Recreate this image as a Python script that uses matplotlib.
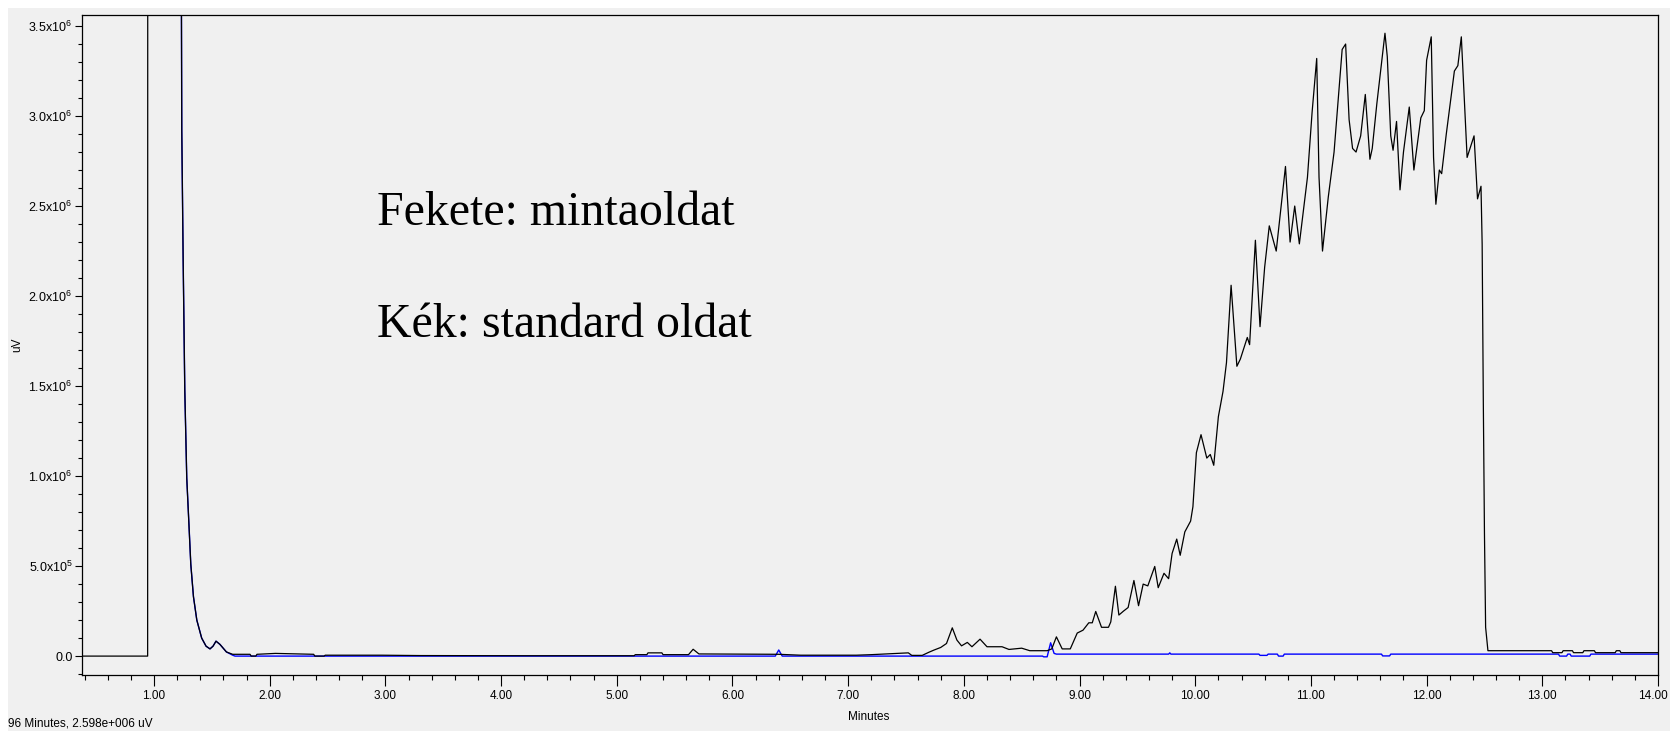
import matplotlib
matplotlib.use("Agg")
import matplotlib.pyplot as plt
from matplotlib import font_manager
from matplotlib.patches import Rectangle
from matplotlib.transforms import ScaledTranslation
from matplotlib.ticker import MultipleLocator, FixedLocator

# sample trace (black), minutes / uV
t_sample = [0.375, 0.945, 0.946, 1.231, 1.240, 1.252, 1.266, 1.283, 1.300, 1.318,
            1.341, 1.370, 1.412, 1.45, 1.484, 1.51, 1.536, 1.57, 1.626, 1.68,
            1.83, 1.84, 1.88, 1.89, 2.05, 2.38, 2.39, 2.47, 2.48, 2.90,
            2.97, 3.30, 4.23, 5.15, 5.16, 5.26, 5.27, 5.39, 5.40, 5.62,
            5.66, 5.71, 6.40, 6.59, 7.07, 7.20, 7.52, 7.55, 7.64, 7.70,
            7.74, 7.80, 7.85, 7.90, 7.94, 7.98, 8.03, 8.07, 8.14, 8.20,
            8.33, 8.39, 8.50, 8.57, 8.72, 8.76, 8.80, 8.85, 8.92, 8.98,
            9.03, 9.08, 9.11, 9.14, 9.19, 9.25, 9.27, 9.31, 9.34, 9.38,
            9.42, 9.47, 9.51, 9.55, 9.59, 9.65, 9.68, 9.73, 9.77, 9.80,
            9.84, 9.87, 9.91, 9.96, 9.98, 10.01, 10.05, 10.10, 10.13, 10.16,
            10.20, 10.24, 10.27, 10.31, 10.36, 10.39, 10.45, 10.47, 10.49, 10.52,
            10.56, 10.60, 10.64, 10.70, 10.78, 10.82, 10.86, 10.90, 10.97, 11.01,
            11.05, 11.07, 11.10, 11.15, 11.20, 11.27, 11.30, 11.33, 11.36, 11.39,
            11.43, 11.47, 11.51, 11.53, 11.57, 11.64, 11.66, 11.69, 11.71, 11.74,
            11.77, 11.80, 11.85, 11.89, 11.95, 11.98, 12.00, 12.04, 12.06, 12.08,
            12.11, 12.13, 12.17, 12.24, 12.27, 12.30, 12.35, 12.41, 12.44, 12.47,
            12.48, 12.49, 12.50, 12.51, 12.53, 13.08, 13.09, 13.17, 13.18, 13.26,
            13.27, 13.35, 13.36, 13.45, 13.46, 13.63, 13.64, 13.67, 13.68, 14.0]
uv_sample = [0, 0, 5.0e6, 5.0e6, 2.92e6, 2.20e6, 1.48e6, 0.99e6, 7.6e5, 5.1e5,
             3.3e5, 2.0e5, 1.0e5, 5.5e4, 4.0e4, 5.5e4, 8.3e4, 6.5e4, 2.3e4, 1.0e4,
             1.0e4, 0, 0, 1.0e4, 1.5e4, 1.0e4, 0, 0, 5e3, 5e3,
             5e3, 3e3, 2e3, 2e3, 8e3, 8e3, 1.8e4, 1.8e4, 8e3, 8e3,
             3.8e4, 1.2e4, 1.0e4, 5e3, 5e3, 8e3, 1.8e4, 4e3, 4e3, 2.2e4,
             3.3e4, 4.8e4, 7.0e4, 1.57e5, 8.9e4, 5.7e4, 7.6e4, 5.2e4, 9.4e4, 5.2e4,
             5.2e4, 3.7e4, 4.4e4, 3.0e4, 3.0e4, 4.0e4, 1.07e5, 4.0e4, 4.0e4, 1.28e5,
             1.44e5, 1.85e5, 1.85e5, 2.48e5, 1.6e5, 1.6e5, 1.9e5, 3.88e5, 2.28e5, 2.5e5,
             2.7e5, 4.2e5, 2.8e5, 4.0e5, 3.9e5, 4.98e5, 3.8e5, 4.6e5, 4.3e5, 5.7e5,
             6.5e5, 5.6e5, 6.9e5, 7.5e5, 8.3e5, 1.13e6, 1.23e6, 1.10e6, 1.12e6, 1.06e6,
             1.33e6, 1.47e6, 1.63e6, 2.06e6, 1.61e6, 1.65e6, 1.77e6, 1.73e6, 1.96e6, 2.31e6,
             1.83e6, 2.16e6, 2.39e6, 2.25e6, 2.72e6, 2.30e6, 2.50e6, 2.29e6, 2.66e6, 3.02e6,
             3.32e6, 2.66e6, 2.25e6, 2.55e6, 2.80e6, 3.37e6, 3.40e6, 2.98e6, 2.82e6, 2.80e6,
             2.89e6, 3.12e6, 2.76e6, 2.82e6, 3.07e6, 3.46e6, 3.33e6, 2.89e6, 2.81e6, 2.97e6,
             2.59e6, 2.80e6, 3.05e6, 2.70e6, 2.99e6, 3.03e6, 3.31e6, 3.44e6, 2.77e6, 2.51e6,
             2.70e6, 2.68e6, 2.90e6, 3.25e6, 3.28e6, 3.44e6, 2.77e6, 2.89e6, 2.54e6, 2.61e6,
             2.29e6, 1.42e6, 6.8e5, 1.6e5, 3.0e4, 3.0e4, 1.9e4, 1.9e4, 3.0e4, 3.0e4,
             1.9e4, 1.9e4, 3.0e4, 3.0e4, 1.9e4, 1.9e4, 3.0e4, 3.0e4, 1.9e4, 1.9e4]

# standard trace (blue)
t_standard = [1.231, 1.240, 1.252, 1.266, 1.283, 1.300, 1.318, 1.341, 1.370, 1.412,
              1.45, 1.484, 1.51, 1.536, 1.57, 1.626, 1.68, 1.70, 6.37, 6.40,
              6.43, 8.68, 8.69, 8.72, 8.75, 8.78, 8.80, 9.77, 9.78, 9.79,
              10.55, 10.56, 10.62, 10.63, 10.71, 10.72, 10.76, 10.77, 11.61, 11.62,
              11.68, 11.69, 13.14, 13.15, 13.21, 13.22, 13.24, 13.25, 13.41, 13.42,
              14.0]
uv_standard = [5.0e6, 2.92e6, 2.20e6, 1.48e6, 0.99e6, 7.6e5, 5.1e5, 3.3e5, 2.0e5, 1.0e5,
               5.5e4, 4.0e4, 5.5e4, 8.3e4, 6.5e4, 2.3e4, 5e3, 0, 0, 3.4e4,
               0, 0, -4e3, -4e3, 7.4e4, 1.5e4, 1.1e4, 1.1e4, 1.8e4, 1.1e4,
               1.1e4, 4e3, 4e3, 1.1e4, 1.1e4, 0, 0, 1.1e4, 1.1e4, 1e3,
               1e3, 1.1e4, 1.1e4, 0, 0, 1.1e4, 1.1e4, 0, 0, 1.1e4,
               1.1e4]

x_major = [1, 2, 3, 4, 5, 6, 7, 8, 9, 10, 11, 12, 13, 14]
x_labels = ["1.00", "2.00", "3.00", "4.00", "5.00", "6.00", "7.00",
            "8.00", "9.00", "10.00", "11.00", "12.00", "13.00", "14.00"]
y_major = [0, 5e5, 1e6, 1.5e6, 2e6, 2.5e6, 3e6, 3.5e6]
y_labels = ["0.0", r"5.0x10$^{5}$", r"1.0x10$^{6}$", r"1.5x10$^{6}$",
            r"2.0x10$^{6}$", r"2.5x10$^{6}$", r"3.0x10$^{6}$", r"3.5x10$^{6}$"]

names = {f.name for f in font_manager.fontManager.ttflist}
small_font = "Liberation Sans Narrow" if "Liberation Sans Narrow" in names else "Liberation Sans"
plt.rcParams["mathtext.fontset"] = "custom"
plt.rcParams["mathtext.rm"] = small_font
plt.rcParams["mathtext.it"] = small_font
plt.rcParams["font.family"] = [small_font, "DejaVu Sans"]

bg = "#f0f0f0"
fig = plt.figure(figsize=(16.70, 7.31), dpi=100, facecolor="white")
fig.patches.append(Rectangle((8 / 1670, 0), 1, 1 - 8 / 731, transform=fig.transFigure,
                             facecolor=bg, edgecolor="none", zorder=-10))
ax = fig.add_axes([81.7 / 1670, 1 - 675 / 731, (1658 - 81.7) / 1670, (675 - 14.7) / 731])
ax.set_facecolor(bg)

ax.plot(t_standard, uv_standard, color="#0000ff", lw=1.0, zorder=2)
ax.plot(t_sample, uv_sample, color="black", lw=0.9, zorder=3)

ax.set_xlim(0.375, 14.0)
ax.set_ylim(-1.05e5, 3.563e6)

ax.xaxis.set_major_locator(FixedLocator(x_major))
ax.set_xticklabels(x_labels)
ax.xaxis.set_minor_locator(MultipleLocator(0.2))
ax.yaxis.set_major_locator(FixedLocator(y_major))
ax.set_yticklabels(y_labels)
ax.yaxis.set_minor_locator(MultipleLocator(1e5))

ax.tick_params(axis="x", which="major", length=8, width=0.8, pad=3, labelsize=8.5)
ax.tick_params(axis="x", which="minor", length=3.8, width=0.8)
ax.tick_params(axis="y", which="major", length=5, width=0.8, pad=1.5, labelsize=9)
ax.tick_params(axis="y", which="minor", length=3, width=0.8)
for side in ax.spines.values():
    side.set_linewidth(0.9)

# keep the last minute label inside the figure edge
last = ax.get_xticklabels()[-1]
last.set_transform(last.get_transform() + ScaledTranslation(-5 / 100, 0, fig.dpi_scale_trans))

ax.set_xlabel("Minutes", fontsize=8.5)
ax.xaxis.set_label_coords((869 - 81.7) / (1658 - 81.7), -(711 - 675) / (675 - 14.7))
ax.set_ylabel("uV", fontsize=8.5)
ax.yaxis.set_label_coords(-(81.7 - 23) / (1658 - 81.7), 0.5)

ax.text(2.925, 2.395e6, "Fekete: mintaoldat", family="Liberation Serif",
        fontsize=34.5, va="baseline", ha="left")
ax.text(2.925, 1.774e6, "Kék: standard oldat", family="Liberation Serif",
        fontsize=34.5, va="baseline", ha="left")

fig.text(8 / 1670, 1 - 723 / 731, "96 Minutes, 2.598e+006 uV", fontsize=8.5,
         va="center", ha="left")

fig.savefig("out.png", dpi=100, facecolor=fig.get_facecolor())
